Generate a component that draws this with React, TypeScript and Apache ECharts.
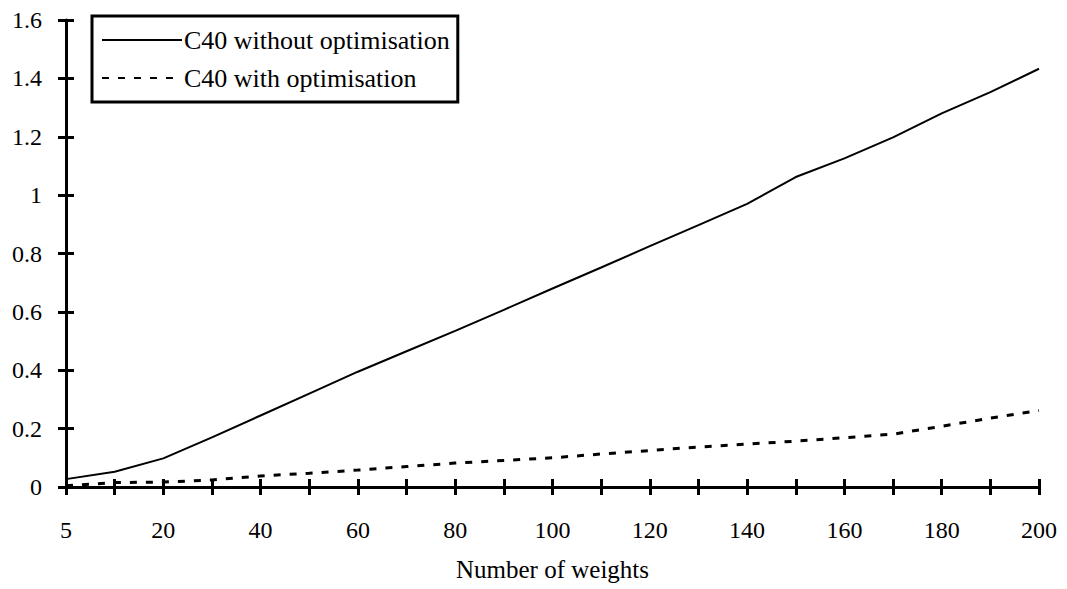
import React, { useEffect, useRef } from "react";
import * as echarts from "echarts";

const categories = ["5", "10", "20", "30", "40", "50", "60", "70", "80", "90", "100", "110", "120", "130", "140", "150", "160", "170", "180", "190", "200"];
const withoutOpt = [0.027, 0.052, 0.098, 0.17, 0.245, 0.32, 0.395, 0.465, 0.535, 0.607, 0.68, 0.752, 0.825, 0.897, 0.97, 1.062, 1.126, 1.198, 1.28, 1.353, 1.433];
const withOpt = [0.004, 0.015, 0.017, 0.024, 0.038, 0.047, 0.058, 0.07, 0.082, 0.091, 0.1, 0.113, 0.125, 0.137, 0.147, 0.157, 0.169, 0.181, 0.208, 0.236, 0.262];
const seriesNames = ["C40 without optimisation", "C40 with optimisation"];
const xAxisName = "Number of weights";

const FONT = "Liberation Serif";

export default function App() {
  const ref = useRef<HTMLDivElement>(null);
  useEffect(() => {
    if (!ref.current) return;
    const chart = echarts.init(ref.current, null, { renderer: "svg" });
    const yFmt = (v: number) => String(+v.toFixed(1));
    chart.setOption({
      animation: false,
      backgroundColor: "#ffffff",
      textStyle: { fontFamily: FONT, color: "#000" },
      grid: { left: 66, right: 28, top: 20, bottom: 102 },
      legend: {
        orient: "vertical",
        left: 92,
        top: 16,
        padding: [11, 8, 11, 9],
        itemGap: 12,
        itemWidth: 80,
        itemHeight: 20,
        borderColor: "#000",
        borderWidth: 3,
        borderRadius: 0,
        itemStyle: { opacity: 0 },
        textStyle: { fontFamily: FONT, fontSize: 26, color: "#000", padding: [0, 0, 0, -3] },
        data: seriesNames.map((n) => ({ name: n })),
      },
      xAxis: [
        {
          type: "category",
          data: categories,
          boundaryGap: false,
          name: xAxisName,
          nameLocation: "middle",
          nameGap: 70,
          nameTextStyle: { fontFamily: FONT, fontSize: 25, color: "#000" },
          axisLine: { show: true, lineStyle: { color: "#000", width: 3 } },
          axisTick: { show: true, interval: 0, length: 8, inside: false, lineStyle: { color: "#000", width: 3 } },
          axisLabel: { interval: 1, margin: 31, fontFamily: FONT, fontSize: 24, color: "#000" },
          splitLine: { show: false },
        },
        {
          type: "category",
          show: true,
          data: categories,
          boundaryGap: false,
          position: "bottom",
          offset: 0,
          axisLine: { show: false },
          axisTick: { show: true, interval: 0, length: 8, inside: true, lineStyle: { color: "#000", width: 3 } },
          axisLabel: { show: false },
          splitLine: { show: false },
        },
      ],
      yAxis: [
        {
          type: "value",
          min: 0,
          max: 1.6,
          interval: 0.2,
          axisLine: { show: true, lineStyle: { color: "#000", width: 3 } },
          axisTick: { show: true, length: 8, inside: false, lineStyle: { color: "#000", width: 3 } },
          axisLabel: { margin: 24, fontFamily: FONT, fontSize: 24, color: "#000", formatter: yFmt },
          splitLine: { show: false },
        },
        {
          type: "value",
          show: true,
          min: 0,
          max: 1.6,
          interval: 0.2,
          position: "left",
          offset: 0,
          axisLine: { show: false },
          axisTick: { show: true, length: 8, inside: true, lineStyle: { color: "#000", width: 3 } },
          axisLabel: { show: false },
          splitLine: { show: false },
        },
      ],
      series: [
        {
          name: seriesNames[0],
          type: "line",
          data: withoutOpt,
          symbol: "none",
          lineStyle: { color: "#000", width: 2, type: "solid" },
          itemStyle: { color: "#000" },
        },
        {
          name: seriesNames[1],
          type: "line",
          xAxisIndex: 1,
          yAxisIndex: 1,
          data: withOpt,
          symbol: "none",
          lineStyle: { color: "#000", width: 3, type: [7, 9] },
          itemStyle: { color: "#000" },
        },
      ],
    });
    return () => chart.dispose();
  }, []);
  return (
    <div
      ref={ref}
      style={{ position: "fixed", left: 0, top: 0, width: 1067, height: 589, background: "#fff" }}
    />
  );
}
